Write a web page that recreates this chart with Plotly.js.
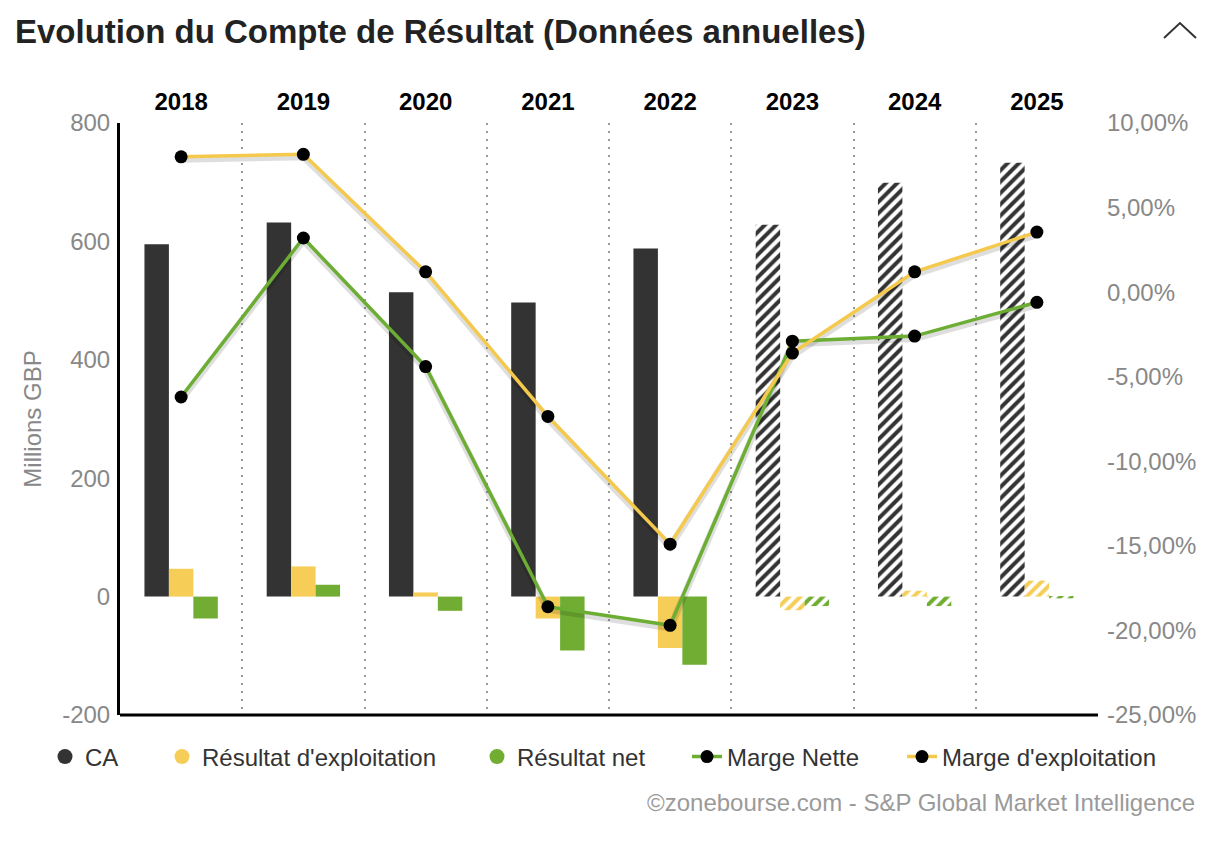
<!DOCTYPE html>
<html>
<head>
<meta charset="utf-8">
<script src="https://cdn.plot.ly/plotly-3.0.1.min.js"></script>
<style>
  html, body { margin: 0; padding: 0; background: #fff; }
  #chart { width: 1217px; height: 844px; }
</style>
</head>
<body>
<div id="chart"></div>
<script>
// Annual income statement, millions GBP (2023-2025 are estimates)
const years = ['2018', '2019', '2020', '2021', '2022', '2023', '2024', '2025'];
const estimate = [false, false, false, false, false, true, true, true];

const chiffreAffaires = [595, 632, 514, 497, 588, 628, 699, 733];
const resultatExploitation = [47, 51, 7, -37, -87, -23, 10, 27];
const resultatNet = [-37, 20, -24, -91, -115, -16, -16, -3];

// Margins, in percent
const margeNette = [-6.2, 3.2, -4.4, -18.6, -19.7, -2.9, -2.6, -0.6];
const margeExploitation = [8.0, 8.15, 1.2, -7.35, -14.9, -3.6, 1.2, 3.55];

// Axis ticks
const leftTicks = [-200, 0, 200, 400, 600, 800];
const leftTickText = ['-200', '0', '200', '400', '600', '800'];
const rightTicks = [-25, -20, -15, -10, -5, 0, 5, 10];
const rightTickText = ['-25,00%', '-20,00%', '-15,00%', '-10,00%', '-5,00%', '0,00%', '5,00%', '10,00%'];

const DARK = '#333333';
const YELLOW = '#f6cd56';
const GREEN = '#70ad32';
const LINE_YELLOW = '#f5c94c';
const LINE_GREEN = '#6cae33';
const GREY_TEXT = '#888888';
const FONT = 'Liberation Sans, Arial, Helvetica, sans-serif';
const FS = 24;

const hatchShapes = estimate.map(e => (e ? '/' : ''));

function barTrace(name, values, color) {
  return {
    type: 'bar',
    name: name,
    x: years,
    y: values,
    yaxis: 'y',
    showlegend: false,
    marker: {
      color: color,
      line: { width: 0 },
      pattern: { shape: hatchShapes, fgcolor: color, bgcolor: '#ffffff', size: 8, solidity: 0.5 }
    },
    hovertemplate: '%{x}: %{y}<extra>' + name + '</extra>'
  };
}

// Legend entries drawn as round dots for the bar series
function dotKey(name, color, legendId) {
  return {
    type: 'scatter', mode: 'markers', name: name,
    x: [null], y: [null], yaxis: 'y',
    marker: { color: color, size: 15 },
    legend: legendId, showlegend: true, hoverinfo: 'skip'
  };
}

// Soft drop shadow under the margin lines (axis y2 is offset a few pixels)
function shadowTrace(values) {
  return {
    type: 'scatter', mode: 'lines', x: years, y: values, yaxis: 'y2',
    line: { color: 'rgba(0,0,0,0.13)', width: 7 },
    showlegend: false, hoverinfo: 'skip'
  };
}

function marginTrace(name, values, color, legendId) {
  return {
    type: 'scatter', mode: 'lines+markers', name: name,
    x: years, y: values, yaxis: 'y3',
    line: { color: color, width: 3.5 },
    marker: { color: '#000000', size: 13 },
    legend: legendId,
    hovertemplate: '%{x}: %{y:.2f}%<extra>' + name + '</extra>'
  };
}

const data = [
  barTrace('CA', chiffreAffaires, DARK),
  barTrace("Résultat d'exploitation", resultatExploitation, YELLOW),
  barTrace('Résultat net', resultatNet, GREEN),
  dotKey('CA', DARK, 'legend'),
  dotKey("Résultat d'exploitation", YELLOW, 'legend2'),
  dotKey('Résultat net', GREEN, 'legend3'),
  shadowTrace(margeNette),
  shadowTrace(margeExploitation),
  marginTrace('Marge Nette', margeNette, LINE_GREEN, 'legend4'),
  marginTrace("Marge d'exploitation", margeExploitation, LINE_YELLOW, 'legend5')
];

const W = 1217, H = 844;
const legendY = 1 - 757 / H;
function legendAt(px) {
  return {
    orientation: 'h', xref: 'container', yref: 'container',
    x: px / W, xanchor: 'left', y: legendY, yanchor: 'middle',
    font: { family: FONT, size: FS, color: '#333333' },
    bgcolor: 'rgba(0,0,0,0)', borderwidth: 0
  };
}

const shadowShift = 2.5 / 16.914;

const layout = {
  width: W, height: H,
  margin: { l: 120, r: 119, t: 123, b: 129 },
  paper_bgcolor: '#ffffff', plot_bgcolor: '#ffffff',
  font: { family: FONT, color: GREY_TEXT, size: FS },
  separators: ', ',
  title: {
    text: 'Evolution du Compte de Résultat (Données annuelles)',
    font: { family: FONT, size: 33, color: '#222222', weight: 700 },
    xref: 'container', yref: 'container',
    x: 15 / W, xanchor: 'left', y: 1 - 31 / H, yanchor: 'middle'
  },
  barmode: 'group', bargap: 0.4, bargroupgap: 0,
  xaxis: {
    type: 'category', side: 'top',
    tickfont: { family: FONT, size: FS, color: '#000000', weight: 700 },
    ticks: '', ticklabelstandoff: 7,
    showline: false, zeroline: false,
    showgrid: true, tickson: 'boundaries',
    gridcolor: '#999999', gridwidth: 2, griddash: '2px,6px',
    fixedrange: true
  },
  yaxis: {
    range: [-200, 800], tickvals: leftTicks, ticktext: leftTickText,
    tickfont: { family: FONT, size: FS, color: GREY_TEXT },
    ticks: '', ticklabelstandoff: 2,
    showgrid: false, zeroline: false,
    showline: true, linecolor: '#000000', linewidth: 3,
    title: { text: 'Millions GBP', font: { family: FONT, size: FS, color: GREY_TEXT }, standoff: 14 },
    fixedrange: true
  },
  yaxis2: {
    overlaying: 'y', side: 'right', visible: false,
    range: [-25 + shadowShift, 10 + shadowShift], fixedrange: true
  },
  yaxis3: {
    overlaying: 'y', side: 'right',
    range: [-25, 10], tickvals: rightTicks, ticktext: rightTickText,
    tickfont: { family: FONT, size: FS, color: GREY_TEXT },
    ticks: '', ticklabelstandoff: 8,
    showgrid: false, zeroline: false, showline: false,
    fixedrange: true
  },
  legend: legendAt(45),
  legend2: legendAt(162),
  legend3: legendAt(477),
  legend4: legendAt(687),
  legend5: legendAt(902),
  shapes: [
    // bottom axis rule
    { type: 'line', xref: 'paper', yref: 'paper', x0: 0, x1: 1, y0: 0, y1: 0,
      line: { color: '#000000', width: 3 } },
    // collapse chevron in the header
    { type: 'path', xref: 'paper', yref: 'paper',
      path: 'M 1.0675,1.1436 L 1.0838,1.1689 L 1.1002,1.1436',
      line: { color: '#333333', width: 2 } }
  ],
  annotations: [
    { text: '©zonebourse.com - S&P Global Market Intelligence',
      xref: 'paper', yref: 'paper', x: 1.1012, y: (715 - 802) / 592,
      xanchor: 'right', yanchor: 'middle', showarrow: false,
      font: { family: FONT, size: FS, color: '#9a9a9a' } }
  ],
  hovermode: 'closest'
};

Plotly.newPlot('chart', data, layout, { displayModeBar: false, responsive: false });
</script>
</body>
</html>
